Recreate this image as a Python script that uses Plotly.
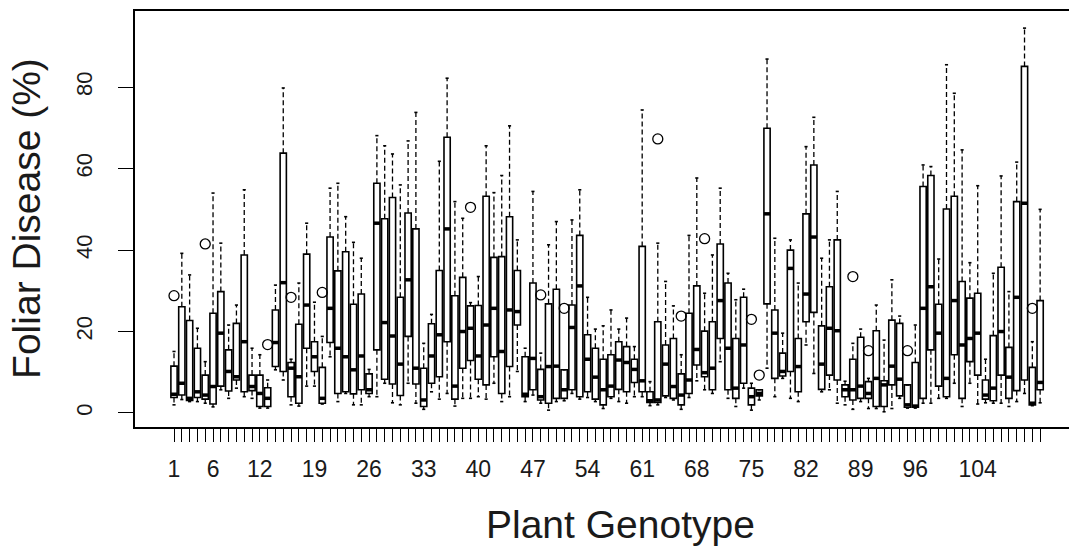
import plotly.graph_objects as go

# ---- data ----
genotype = list(range(1, 113))

lower_whisker = [2.0, 3.3, 2.8, 2.8, 2.4, 1.5, 5.7, 3.6, 6.1, 4.0,
                 3.6, 1.2, 1.2, 10.6, 8.1, 2.0, 1.7, 6.6, 6.6, 2.2,
                 13.8, 2.8, 4.8, 2.0, 2.0, 4.0, 4.0, 7.3, 2.5, 2.0,
                 7.3, 2.4, 0.9, 5.2, 3.4, 4.8, 1.7, 3.6, 3.6, 4.0,
                 3.4, 7.3, 2.8, 4.0, 10.2, 2.8, 4.4, 2.4, 0.7, 2.8,
                 3.0, 4.8, 3.4, 3.8, 2.8, 1.1, 3.6, 2.8, 2.4, 4.0,
                 4.0, 1.8, 2.0, 3.8, 3.2, 0.9, 3.8, 7.9, 5.7, 4.8,
                 12.6, 3.6, 1.6, 6.1, 0.7, 3.2, 11.0, 4.0, 8.5, 3.6,
                 2.8, 16.7, 9.7, 5.2, 5.7, 2.4, 2.0, 0.9, 2.8, 1.1,
                 1.1, 0.3, 1.1, 3.6, 1.2, 1.2, 2.4, 2.4, 3.6, 3.6,
                 7.3, 1.6, 7.3, 2.2, 2.5, 2.4, 2.4, 1.6, 2.8, 4.8,
                 1.8, 2.5]
q1 = [3.8, 4.4, 3.1, 3.8, 3.4, 2.2, 6.6, 5.4, 8.1, 5.2,
      5.5, 1.6, 1.6, 11.4, 10.2, 4.0, 2.4, 15.9, 10.2, 2.4,
      17.3, 4.8, 5.2, 4.7, 5.7, 4.8, 15.5, 8.3, 7.1, 4.3,
      18.8, 7.1, 1.6, 7.3, 8.9, 17.5, 3.4, 11.0, 12.9, 8.3,
      6.9, 13.8, 4.8, 11.4, 21.6, 4.0, 5.7, 3.2, 2.4, 3.6,
      3.6, 5.7, 4.0, 5.2, 3.4, 2.0, 4.0, 5.8, 5.2, 7.5,
      5.2, 2.6, 2.6, 4.2, 3.6, 2.0, 4.8, 11.8, 8.9, 5.7,
      18.3, 5.7, 3.6, 7.3, 2.0, 4.2, 26.8, 8.5, 9.1, 10.2,
      5.2, 22.4, 24.7, 5.8, 9.3, 8.1, 4.0, 3.2, 3.6, 3.6,
      1.6, 1.6, 6.9, 4.2, 1.4, 1.4, 3.6, 15.5, 6.6, 4.0,
      14.3, 3.6, 12.6, 9.3, 3.4, 3.0, 9.3, 3.6, 5.5, 8.1,
      2.0, 5.7]
median = [4.6, 7.3, 3.6, 5.2, 4.4, 6.5, 19.6, 10.2, 8.9, 17.5,
          6.5, 4.8, 3.6, 17.3, 32.0, 11.0, 8.9, 26.5, 13.8, 3.6,
          25.7, 15.9, 13.8, 10.6, 14.0, 5.7, 46.6, 22.2, 18.9, 12.0,
          32.7, 11.0, 3.2, 14.0, 19.2, 45.2, 6.6, 20.0, 20.8, 14.0,
          21.6, 25.7, 15.1, 25.3, 24.9, 4.6, 13.4, 4.0, 11.4, 11.5,
          5.7, 21.0, 31.2, 13.2, 8.8, 5.7, 6.6, 13.0, 12.4, 10.7,
          7.9, 3.0, 3.2, 12.0, 6.5, 4.4, 8.1, 15.6, 9.9, 11.0,
          27.6, 15.9, 6.1, 16.7, 4.0, 4.8, 48.9, 19.6, 10.2, 35.5,
          11.4, 29.2, 43.2, 12.0, 20.8, 20.2, 5.7, 5.7, 6.6, 4.8,
          8.5, 6.9, 11.5, 8.3, 2.0, 1.7, 25.7, 31.0, 19.6, 8.5,
          27.6, 16.7, 18.3, 19.6, 4.4, 6.1, 20.0, 8.8, 28.4, 51.5,
          2.4, 7.5]
q3 = [11.5, 26.1, 22.7, 15.9, 9.3, 24.5, 29.8, 15.5, 22.0, 38.8,
      9.3, 9.3, 6.2, 25.3, 63.8, 12.4, 21.8, 39.0, 17.5, 11.2,
      43.2, 34.9, 39.6, 26.7, 29.2, 9.6, 56.4, 47.7, 52.9, 28.4,
      49.1, 45.2, 11.0, 21.9, 35.0, 67.7, 28.8, 33.3, 26.3, 26.4,
      53.2, 38.2, 38.4, 48.2, 35.0, 13.8, 31.9, 10.7, 26.8, 30.4,
      10.6, 26.5, 43.6, 19.2, 15.9, 13.2, 14.3, 17.5, 16.3, 13.2,
      40.9, 5.2, 22.4, 16.7, 18.3, 9.6, 24.5, 31.2, 20.1, 22.4,
      41.5, 31.9, 18.3, 28.4, 6.1, 5.7, 69.9, 25.3, 14.7, 40.0,
      18.3, 48.9, 60.9, 21.4, 31.0, 42.5, 6.9, 13.2, 18.6, 7.7,
      20.2, 7.9, 22.8, 22.0, 6.9, 12.4, 55.6, 58.3, 26.7, 50.1,
      53.2, 32.3, 28.2, 29.4, 8.1, 19.0, 35.8, 16.1, 51.9, 85.1,
      11.2, 27.6]
upper_whisker = [15.1, 39.2, 33.9, 20.8, 12.6, 54.0, 41.7, 21.6, 26.5, 54.8,
                 15.9, 14.3, 8.1, 31.4, 79.8, 13.2, 31.9, 46.6, 27.2, 18.8,
                 55.2, 56.4, 48.2, 41.9, 38.0, 10.7, 68.1, 65.6, 63.6, 56.0,
                 66.8, 73.8, 17.1, 24.2, 61.8, 82.2, 51.9, 47.8, 27.1, 33.5,
                 65.6, 54.1, 58.3, 70.5, 42.5, 15.9, 54.4, 14.7, 41.3, 47.0,
                 10.6, 47.4, 54.8, 28.4, 20.6, 21.4, 25.3, 20.6, 23.3, 16.3,
                 74.4, 7.7, 41.7, 32.3, 26.3, 14.3, 43.6, 57.7, 29.4, 38.8,
                 55.2, 34.3, 27.8, 30.4, 7.3, 5.7, 86.9, 42.9, 19.6, 42.5,
                 31.9, 65.4, 72.6, 38.0, 42.5, 54.4, 7.8, 17.1, 20.6, 8.5,
                 26.5, 17.9, 32.7, 23.8, 6.9, 21.6, 60.9, 60.5, 37.8, 85.5,
                 78.5, 64.6, 36.9, 55.8, 13.2, 34.3, 58.2, 29.8, 61.6, 94.5,
                 17.5, 50.0]

outlier_genotype = [1, 5, 13, 16, 20, 39, 48, 51, 63, 66, 69, 75, 76, 88, 90, 95, 111]
outlier_value = [28.8, 41.5, 16.8, 28.4, 29.6, 50.5, 29.0, 25.7, 67.3, 23.8,
                 42.8, 23.0, 9.3, 33.5, 15.3, 15.3, 25.7]

labelled_ticks = [1, 6, 12, 19, 26, 33, 40, 47, 54, 61, 68, 75, 82, 89, 96, 104]
tick_text = [str(g) if g in labelled_ticks else "" for g in genotype]

BOX_W = 0.8
STAPLE_HALF = 0.2
FONT = "Liberation Sans, Arial, sans-serif"
TXT = "#1a1a1a"

# ---- build segment lists from the data ----
wx, wy, cx, cy, mx, my = [], [], [], [], [], []
for g, lo, a, m, b, hi in zip(genotype, lower_whisker, q1, median, q3, upper_whisker):
    wx += [g, g, None, g, g, None]
    wy += [b, hi, None, a, lo, None]
    cx += [g - STAPLE_HALF, g + STAPLE_HALF, None, g - STAPLE_HALF, g + STAPLE_HALF, None]
    cy += [hi, hi, None, lo, lo, None]
    mx += [g - BOX_W / 2, g + BOX_W / 2, None]
    my += [m, m, None]

fig = go.Figure()

fig.add_trace(go.Scatter(x=wx, y=wy, mode="lines", hoverinfo="skip",
                         line=dict(color="black", width=1.3, dash="5px,3px"),
                         showlegend=False))
fig.add_trace(go.Scatter(x=cx, y=cy, mode="lines", hoverinfo="skip",
                         line=dict(color="black", width=1.6), showlegend=False))
fig.add_trace(go.Box(x=genotype, q1=q1, median=median, q3=q3,
                     lowerfence=q1, upperfence=q3, width=BOX_W,
                     fillcolor="white", line=dict(color="black", width=1.6),
                     whiskerwidth=0, boxpoints=False, showlegend=False))
fig.add_trace(go.Scatter(x=mx, y=my, mode="lines", hoverinfo="skip",
                         line=dict(color="black", width=3.5), showlegend=False))
fig.add_trace(go.Scatter(x=outlier_genotype, y=outlier_value, mode="markers",
                         marker=dict(symbol="circle-open", size=10, color="black",
                                     line=dict(width=1.3)),
                         showlegend=False))

fig.update_layout(
    width=1069, height=550,
    margin=dict(l=135, r=0, t=11, b=123),
    plot_bgcolor="white", paper_bgcolor="white",
    font=dict(family=FONT, color=TXT),
    xaxis=dict(range=[-4.0, 115.7], tickmode="array", tickvals=genotype,
               ticktext=tick_text, ticks="outside", ticklen=13, tickwidth=1,
               tickcolor="black", showline=True, linecolor="black", linewidth=1.5,
               mirror=True, showgrid=False, zeroline=False,
               tickfont=dict(size=23, family=FONT, color=TXT),
               ticklabelstandoff=8),
    yaxis=dict(range=[-3.44, 98.7], tickmode="array", tickvals=[0, 20, 40, 60, 80],
               ticks="outside", ticklen=15, tickwidth=1, tickcolor="black",
               showline=True, linecolor="black", linewidth=1.5, mirror=False,
               showgrid=False, zeroline=False, tickangle=-90,
               tickfont=dict(size=22, family=FONT, color=TXT),
               ticklabelstandoff=17),
    annotations=[
        dict(text="Plant Genotype", xref="paper", yref="paper", x=0.52, y=-0.2915,
             xanchor="center", yanchor="bottom", showarrow=False,
             font=dict(size=39, family=FONT, color=TXT)),
        dict(text="Foliar Disease (%)", xref="paper", yref="paper", x=-0.117, y=0.502,
             xanchor="center", yanchor="middle", textangle=-90, showarrow=False,
             font=dict(size=39, family=FONT, color=TXT)),
    ],
)

fig.write_html("out.html")
